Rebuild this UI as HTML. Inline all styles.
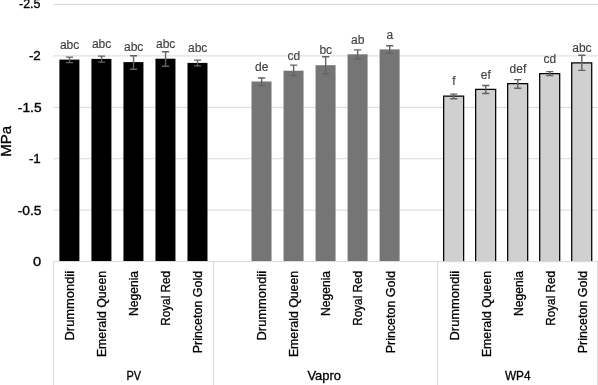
<!DOCTYPE html><html><head><meta charset="utf-8"><title>Chart</title><style>html,body{margin:0;padding:0;background:#fff}body{width:598px;height:385px;overflow:hidden}svg{display:block;will-change:transform;transform:translateZ(0)}text{font-family:"Liberation Sans",sans-serif;stroke-width:0.3px;paint-order:stroke}.d{stroke:#404040;stroke-width:0.15px}.k{stroke:#000}.t{stroke-width:0.35px}</style></head><body>
<svg width="598" height="385" viewBox="0 0 598 385">
<rect width="598" height="385" fill="#fff"/>
<line x1="53.40" y1="261.59" x2="598" y2="261.59" stroke="#d9d9d9" stroke-width="1"/>
<line x1="53.40" y1="210.17" x2="598" y2="210.17" stroke="#d9d9d9" stroke-width="1"/>
<line x1="53.40" y1="158.75" x2="598" y2="158.75" stroke="#d9d9d9" stroke-width="1"/>
<line x1="53.40" y1="107.33" x2="598" y2="107.33" stroke="#d9d9d9" stroke-width="1"/>
<line x1="53.40" y1="55.91" x2="598" y2="55.91" stroke="#d9d9d9" stroke-width="1"/>
<line x1="53.40" y1="4.49" x2="598" y2="4.49" stroke="#d9d9d9" stroke-width="1"/>
<line x1="53.40" y1="261.10" x2="53.40" y2="385" stroke="#d9d9d9" stroke-width="1"/>
<line x1="213.50" y1="261.10" x2="213.50" y2="385" stroke="#d9d9d9" stroke-width="1"/>
<line x1="437.64" y1="261.10" x2="437.64" y2="385" stroke="#d9d9d9" stroke-width="1"/>
<line x1="597.60" y1="261.10" x2="597.60" y2="385" stroke="#d9d9d9" stroke-width="1"/>
<text class="k t" x="41.30" y="266.00" text-anchor="end" font-size="13.2" textLength="8.2" lengthAdjust="spacingAndGlyphs" fill="#000000">0</text>
<text class="k t" x="41.60" y="214.70" text-anchor="end" font-size="13.2" textLength="23.9" lengthAdjust="spacingAndGlyphs" fill="#000000">-0.5</text>
<text class="k t" x="40.80" y="163.30" text-anchor="end" font-size="13.2" textLength="11.9" lengthAdjust="spacingAndGlyphs" fill="#000000">-1</text>
<text class="k t" x="41.55" y="111.60" text-anchor="end" font-size="13.2" textLength="23.7" lengthAdjust="spacingAndGlyphs" fill="#000000">-1.5</text>
<text class="k t" x="40.80" y="60.00" text-anchor="end" font-size="13.2" textLength="11.9" lengthAdjust="spacingAndGlyphs" fill="#000000">-2</text>
<text class="k t" x="40.45" y="8.25" text-anchor="end" font-size="13.2" textLength="21.4" lengthAdjust="spacingAndGlyphs" fill="#000000">-2.5</text>
<text class="k" transform="translate(11.1,141.4) rotate(-90)" text-anchor="middle" font-size="14.6" textLength="30.9" lengthAdjust="spacingAndGlyphs" fill="#000000">MPa</text>
<rect x="59.40" y="59.60" width="20.00" height="201.40" fill="#000000"/>
<path d="M69.50 57.10V62.60M65.90 57.10h7.2M65.90 62.60h7.2" fill="none" stroke="#636363" stroke-width="1.4"/>
<text x="69.60" y="48.85" class="d" text-anchor="middle" font-size="12" fill="#404040">abc</text>
<text class="k" transform="translate(74.30,270.9) rotate(-90)" text-anchor="end" font-size="12.9" textLength="69.6" lengthAdjust="spacingAndGlyphs" fill="#000000">Drummondii</text>
<rect x="91.42" y="58.90" width="20.00" height="202.10" fill="#000000"/>
<path d="M101.52 56.10V62.10M97.92 56.10h7.2M97.92 62.10h7.2" fill="none" stroke="#636363" stroke-width="1.4"/>
<text x="101.62" y="48.15" class="d" text-anchor="middle" font-size="12" fill="#404040">abc</text>
<text class="k" transform="translate(106.32,270.9) rotate(-90)" text-anchor="end" font-size="12.9" textLength="86.2" lengthAdjust="spacingAndGlyphs" fill="#000000">Emerald Queen</text>
<rect x="123.44" y="62.10" width="20.00" height="198.90" fill="#000000"/>
<path d="M133.54 55.70V69.30M129.94 55.70h7.2M129.94 69.30h7.2" fill="none" stroke="#636363" stroke-width="1.4"/>
<text x="133.64" y="51.35" class="d" text-anchor="middle" font-size="12" fill="#404040">abc</text>
<text class="k" transform="translate(138.34,270.9) rotate(-90)" text-anchor="end" font-size="12.9" textLength="45.0" lengthAdjust="spacingAndGlyphs" fill="#000000">Negenia</text>
<rect x="155.46" y="58.70" width="20.00" height="202.30" fill="#000000"/>
<path d="M165.56 51.80V66.20M161.96 51.80h7.2M161.96 66.20h7.2" fill="none" stroke="#636363" stroke-width="1.4"/>
<text x="165.66" y="47.95" class="d" text-anchor="middle" font-size="12" fill="#404040">abc</text>
<text class="k" transform="translate(170.36,270.9) rotate(-90)" text-anchor="end" font-size="12.9" textLength="54.9" lengthAdjust="spacingAndGlyphs" fill="#000000">Royal Red</text>
<rect x="187.48" y="62.90" width="20.00" height="198.10" fill="#000000"/>
<path d="M197.58 60.10V65.90M193.98 60.10h7.2M193.98 65.90h7.2" fill="none" stroke="#636363" stroke-width="1.4"/>
<text x="197.68" y="52.15" class="d" text-anchor="middle" font-size="12" fill="#404040">abc</text>
<text class="k" transform="translate(202.38,270.9) rotate(-90)" text-anchor="end" font-size="12.9" textLength="82.4" lengthAdjust="spacingAndGlyphs" fill="#000000">Princeton Gold</text>
<rect x="251.52" y="81.50" width="20.00" height="179.50" fill="#757575"/>
<path d="M261.62 78.00V85.60M258.02 78.00h7.2M258.02 85.60h7.2" fill="none" stroke="#636363" stroke-width="1.4"/>
<text x="261.72" y="70.75" class="d" text-anchor="middle" font-size="12" fill="#404040">de</text>
<text class="k" transform="translate(266.42,270.9) rotate(-90)" text-anchor="end" font-size="12.9" textLength="69.6" lengthAdjust="spacingAndGlyphs" fill="#000000">Drummondii</text>
<rect x="283.54" y="70.70" width="20.00" height="190.30" fill="#757575"/>
<path d="M293.64 65.10V75.50M290.04 65.10h7.2M290.04 75.50h7.2" fill="none" stroke="#636363" stroke-width="1.4"/>
<text x="293.74" y="59.95" class="d" text-anchor="middle" font-size="12" fill="#404040">cd</text>
<text class="k" transform="translate(298.44,270.9) rotate(-90)" text-anchor="end" font-size="12.9" textLength="86.2" lengthAdjust="spacingAndGlyphs" fill="#000000">Emerald Queen</text>
<rect x="315.56" y="65.20" width="20.00" height="195.80" fill="#757575"/>
<path d="M325.66 56.80V74.00M322.06 56.80h7.2M322.06 74.00h7.2" fill="none" stroke="#636363" stroke-width="1.4"/>
<text x="325.76" y="54.45" class="d" text-anchor="middle" font-size="12" fill="#404040">bc</text>
<text class="k" transform="translate(330.46,270.9) rotate(-90)" text-anchor="end" font-size="12.9" textLength="45.0" lengthAdjust="spacingAndGlyphs" fill="#000000">Negenia</text>
<rect x="347.58" y="54.30" width="20.00" height="206.70" fill="#757575"/>
<path d="M357.68 49.90V58.80M354.08 49.90h7.2M354.08 58.80h7.2" fill="none" stroke="#636363" stroke-width="1.4"/>
<text x="357.78" y="43.55" class="d" text-anchor="middle" font-size="12" fill="#404040">ab</text>
<text class="k" transform="translate(362.48,270.9) rotate(-90)" text-anchor="end" font-size="12.9" textLength="54.9" lengthAdjust="spacingAndGlyphs" fill="#000000">Royal Red</text>
<rect x="379.60" y="49.40" width="20.00" height="211.60" fill="#757575"/>
<path d="M389.70 45.70V53.40M386.10 45.70h7.2M386.10 53.40h7.2" fill="none" stroke="#636363" stroke-width="1.4"/>
<text x="389.80" y="38.65" class="d" text-anchor="middle" font-size="12" fill="#404040">a</text>
<text class="k" transform="translate(394.50,270.9) rotate(-90)" text-anchor="end" font-size="12.9" textLength="82.4" lengthAdjust="spacingAndGlyphs" fill="#000000">Princeton Gold</text>
<rect x="443.64" y="96.00" width="20.00" height="165.60" fill="#d0d0d0"/>
<path d="M443.64 261.00V96.00H463.64V261.00" fill="none" stroke="#000000" stroke-width="1.25"/>
<line x1="442.64" y1="261.59" x2="464.64" y2="261.59" stroke="#d9d9d9" stroke-width="1"/>
<path d="M453.74 94.10V98.80M450.14 94.10h7.2M450.14 98.80h7.2" fill="none" stroke="#636363" stroke-width="1.4"/>
<text x="453.84" y="85.25" class="d" text-anchor="middle" font-size="12" fill="#404040">f</text>
<text class="k" transform="translate(458.54,270.9) rotate(-90)" text-anchor="end" font-size="12.9" textLength="69.6" lengthAdjust="spacingAndGlyphs" fill="#000000">Drummondii</text>
<rect x="475.66" y="89.30" width="20.00" height="172.30" fill="#d0d0d0"/>
<path d="M475.66 261.00V89.30H495.66V261.00" fill="none" stroke="#000000" stroke-width="1.25"/>
<line x1="474.66" y1="261.59" x2="496.66" y2="261.59" stroke="#d9d9d9" stroke-width="1"/>
<path d="M485.76 85.50V93.50M482.16 85.50h7.2M482.16 93.50h7.2" fill="none" stroke="#636363" stroke-width="1.4"/>
<text x="485.86" y="78.55" class="d" text-anchor="middle" font-size="12" fill="#404040">ef</text>
<text class="k" transform="translate(490.56,270.9) rotate(-90)" text-anchor="end" font-size="12.9" textLength="86.2" lengthAdjust="spacingAndGlyphs" fill="#000000">Emerald Queen</text>
<rect x="507.68" y="83.70" width="20.00" height="177.90" fill="#d0d0d0"/>
<path d="M507.68 261.00V83.70H527.68V261.00" fill="none" stroke="#000000" stroke-width="1.25"/>
<line x1="506.68" y1="261.59" x2="528.68" y2="261.59" stroke="#d9d9d9" stroke-width="1"/>
<path d="M517.78 79.60V88.30M514.18 79.60h7.2M514.18 88.30h7.2" fill="none" stroke="#636363" stroke-width="1.4"/>
<text x="517.88" y="72.95" class="d" text-anchor="middle" font-size="12" fill="#404040">def</text>
<text class="k" transform="translate(522.58,270.9) rotate(-90)" text-anchor="end" font-size="12.9" textLength="45.0" lengthAdjust="spacingAndGlyphs" fill="#000000">Negenia</text>
<rect x="539.70" y="73.60" width="20.00" height="188.00" fill="#d0d0d0"/>
<path d="M539.70 261.00V73.60H559.70V261.00" fill="none" stroke="#000000" stroke-width="1.25"/>
<line x1="538.70" y1="261.59" x2="560.70" y2="261.59" stroke="#d9d9d9" stroke-width="1"/>
<path d="M549.80 71.60V75.50M546.20 71.60h7.2M546.20 75.50h7.2" fill="none" stroke="#636363" stroke-width="1.4"/>
<text x="549.90" y="62.85" class="d" text-anchor="middle" font-size="12" fill="#404040">cd</text>
<text class="k" transform="translate(554.60,270.9) rotate(-90)" text-anchor="end" font-size="12.9" textLength="54.9" lengthAdjust="spacingAndGlyphs" fill="#000000">Royal Red</text>
<rect x="571.72" y="62.90" width="20.00" height="198.70" fill="#d0d0d0"/>
<path d="M571.72 261.00V62.90H591.72V261.00" fill="none" stroke="#000000" stroke-width="1.25"/>
<line x1="570.72" y1="261.59" x2="592.72" y2="261.59" stroke="#d9d9d9" stroke-width="1"/>
<path d="M581.82 55.20V70.40M578.22 55.20h7.2M578.22 70.40h7.2" fill="none" stroke="#636363" stroke-width="1.4"/>
<text x="581.92" y="52.15" class="d" text-anchor="middle" font-size="12" fill="#404040">abc</text>
<text class="k" transform="translate(586.62,270.9) rotate(-90)" text-anchor="end" font-size="12.9" textLength="82.4" lengthAdjust="spacingAndGlyphs" fill="#000000">Princeton Gold</text>
<text class="k" x="133.80" y="380.35" text-anchor="middle" font-size="12.1" textLength="14.6" lengthAdjust="spacingAndGlyphs" fill="#000000">PV</text>
<text class="k" x="324.20" y="380.35" text-anchor="middle" font-size="12.1" textLength="33.6" lengthAdjust="spacingAndGlyphs" fill="#000000">Vapro</text>
<text class="k" x="517.75" y="380.35" text-anchor="middle" font-size="12.1" textLength="25.6" lengthAdjust="spacingAndGlyphs" fill="#000000">WP4</text>
</svg></body></html>
